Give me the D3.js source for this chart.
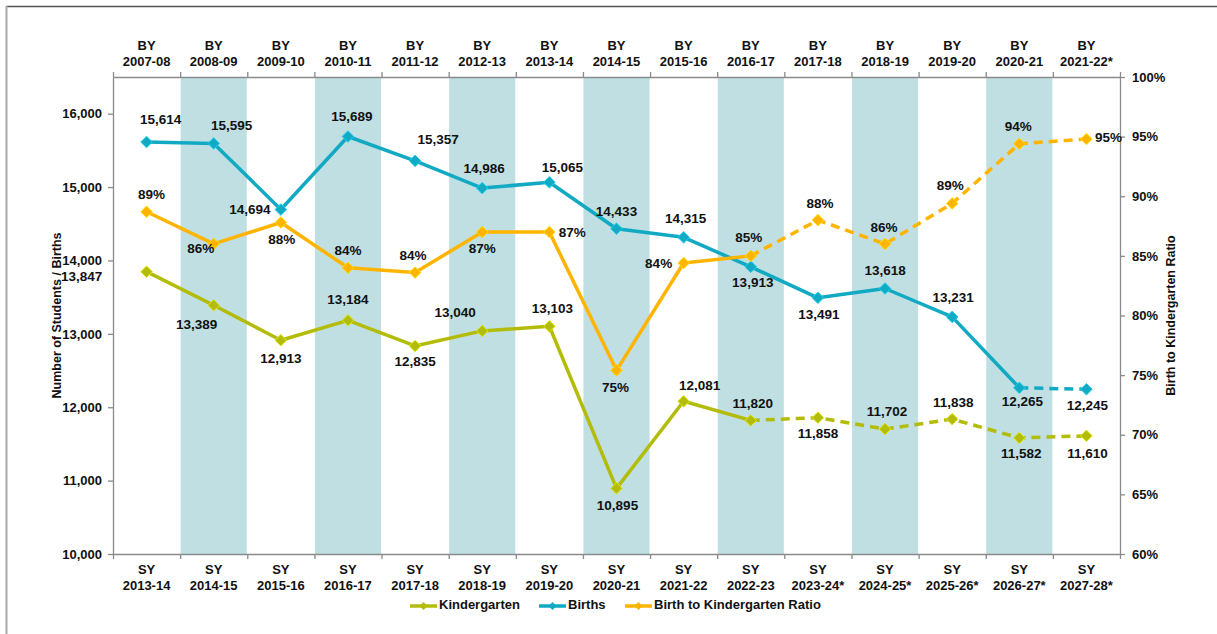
<!DOCTYPE html>
<html>
<head>
<meta charset="utf-8">
<script src="https://cdn.jsdelivr.net/npm/d3@7"></script>
<style>
  body { margin: 0; background: #fff; }
  svg text { font-family: "Liberation Sans", Arial, sans-serif; font-weight: bold; fill: #111; }
</style>
</head>
<body>
<div id="chart"></div>
<script>
// birth years (top axis) and school years (bottom axis)
const birthYears = ["2007-08", "2008-09", "2009-10", "2010-11", "2011-12", "2012-13", "2013-14", "2014-15",
  "2015-16", "2016-17", "2017-18", "2018-19", "2019-20", "2020-21", "2021-22*"];
const schoolYears = ["2013-14", "2014-15", "2015-16", "2016-17", "2017-18", "2018-19", "2019-20", "2020-21",
  "2021-22", "2022-23", "2023-24*", "2024-25*", "2025-26*", "2026-27*", "2027-28*"];

const kindergarten = [13847, 13389, 12913, 13184, 12835, 13040, 13103, 10895, 12081, 11820, 11858, 11702, 11838, 11582, 11610];
const births = [15614, 15595, 14694, 15689, 15357, 14986, 15065, 14433, 14315, 13913, 13491, 13618, 13231, 12265, 12245];
const ratio = [0.887, 0.860, 0.878, 0.840, 0.836, 0.870, 0.870, 0.754, 0.844, 0.850, 0.880, 0.860, 0.894, 0.944, 0.948];

// index where the dashed (projected) part of each line starts
const kinderDashFrom = 9, birthsDashFrom = 13, ratioDashFrom = 9;

const leftTicks = [10000, 11000, 12000, 13000, 14000, 15000, 16000];
const rightTicks = [0.60, 0.65, 0.70, 0.75, 0.80, 0.85, 0.90, 0.95, 1.00];

// label nudges [dx, dy] from the point
const birthsLbl = [[14,-22],[18,-17],[-31,1],[4,-19],[23,-20],[2,-19],[13,-14],[0,-16],[2,-18],[2,17],[1,18],[0,-17],[1,-18],[3,15],[1,17]];
const kinderLbl = [[-65,6],[-17,20],[0,19],[0,-20],[0,16],[-27,-17],[3,-17],[1,18],[16,-15],[2,-16],[0,17],[2,-17],[1,-16],[2,17],[1,19]];
const ratioLbl = [[5,-16],[-13,5],[1,18],[0,-16],[-2,-16],[0,17],[23,1],[-1,18],[-25,1],[-2,-17],[2,-16],[-1,-16],[-2,-17],[-1,-16],[22,-1]];

const W = 1217, H = 634;
const mLeft = 113, mRight = 1120, mTop = 77, mBottom = 554;

const colK = "#b3bc08", colB = "#12a9c3", colR = "#ffb400", band = "#bfdfe2";

const svg = d3.select("#chart").append("svg")
  .attr("width", W).attr("height", H);

// frame
svg.append("line").attr("x1", 6).attr("x2", W).attr("y1", 6.5).attr("y2", 6.5)
  .attr("stroke", "#555").attr("stroke-width", 1.5);
svg.append("line").attr("x1", 6.5).attr("x2", 6.5).attr("y1", 6).attr("y2", H)
  .attr("stroke", "#aaa").attr("stroke-width", 2);

const n = birthYears.length;
const x = d3.scaleBand().domain(d3.range(n)).range([mLeft, mRight]).padding(0);
const xb = d3.scaleLinear().domain([0, n]).range([mLeft, mRight]);
const y = d3.scaleLinear().domain([10000, 16500]).range([mBottom, mTop]);
const y2 = d3.scaleLinear().domain([0.6, 1.0]).range([mBottom, mTop]);
const cx = i => x(i) + x.bandwidth() / 2;

// shaded bands
svg.append("g").selectAll("rect")
  .data(d3.range(n).filter(i => i % 2 === 1))
  .join("rect")
  .attr("x", i => x(i) + 0.5)
  .attr("y", mTop)
  .attr("width", x.bandwidth() - 1)
  .attr("height", mBottom - mTop)
  .attr("fill", band);

// axes
function styleAxis(g) {
  g.select(".domain").attr("stroke", "#8a8a8a").attr("stroke-width", 1.3);
  g.selectAll(".tick line").attr("stroke", "#8a8a8a").attr("stroke-width", 1.3);
  g.selectAll("text").style("font-size", "13px").attr("fill", "#111")
    .style("font-family", "'Liberation Sans', Arial, sans-serif").style("font-weight", "bold");
}

svg.append("g").attr("transform", `translate(${mLeft},0)`)
  .call(d3.axisLeft(y).tickValues(leftTicks).tickFormat(d3.format(",")).tickSize(5).tickSizeOuter(0).tickPadding(6))
  .call(styleAxis);

svg.append("g").attr("transform", `translate(${mRight},0)`)
  .call(d3.axisRight(y2).tickValues(rightTicks).tickFormat(d3.format(".0%")).tickSize(5).tickSizeOuter(0).tickPadding(7))
  .call(styleAxis);

svg.append("g").attr("transform", `translate(0,${mBottom})`)
  .call(d3.axisBottom(xb).tickValues(d3.range(n + 1)).tickFormat("").tickSize(5).tickSizeOuter(0))
  .call(styleAxis);

svg.append("g").attr("transform", `translate(0,${mTop})`)
  .call(d3.axisTop(xb).tickValues(d3.range(n + 1)).tickFormat("").tickSize(5).tickSizeOuter(0))
  .call(styleAxis);

// category labels, two lines each
function catLabels(arr, prefix, y0) {
  const t = svg.append("g").selectAll("text").data(arr).join("text")
    .attr("x", (d, i) => cx(i))
    .attr("y", y0)
    .attr("text-anchor", "middle")
    .style("font-size", "13px");
  t.append("tspan").attr("x", (d, i) => cx(i)).text(prefix);
  t.append("tspan").attr("x", (d, i) => cx(i)).attr("dy", 15.5).text(d => d);
}
catLabels(birthYears, "BY", 50);
catLabels(schoolYears, "SY", 574);

// axis titles
svg.append("text")
  .attr("transform", `translate(61,${(mTop + mBottom) / 2}) rotate(-90)`)
  .attr("text-anchor", "middle")
  .style("font-size", "12.5px")
  .text("Number of Students / Births");
svg.append("text")
  .attr("transform", `translate(1175,${(mTop + mBottom) / 2}) rotate(-90)`)
  .attr("text-anchor", "middle")
  .style("font-size", "12.5px")
  .text("Birth to Kindergarten Ratio");

// series
function drawSeries(values, ys, color, dashFrom, lbl, fmt) {
  const pts = values.map((v, i) => [cx(i), ys(v)]);
  const line = d3.line();
  svg.append("path")
    .attr("d", line(pts.slice(0, dashFrom + 1)))
    .attr("fill", "none").attr("stroke", color).attr("stroke-width", 3.5)
    .attr("stroke-linejoin", "round");
  svg.append("path")
    .attr("d", line(pts.slice(dashFrom)))
    .attr("fill", "none").attr("stroke", color).attr("stroke-width", 3.5)
    .attr("stroke-dasharray", "9,6");
  svg.append("g").selectAll("path").data(values).join("path")
    .attr("d", d3.symbol(d3.symbolDiamond2, 85))
    .attr("transform", (d, i) => `translate(${cx(i)},${ys(d)})`)
    .attr("fill", color)
    .attr("stroke", d3.color(color).brighter(0.6))
    .attr("stroke-width", 1);
  svg.append("g").selectAll("text").data(values).join("text")
    .attr("x", (d, i) => cx(i) + lbl[i][0])
    .attr("y", (d, i) => ys(d) + lbl[i][1])
    .attr("text-anchor", "middle")
    .attr("dominant-baseline", "middle")
    .style("font-size", "13.5px")
    .text(fmt);
}

drawSeries(kindergarten, y, colK, kinderDashFrom, kinderLbl, d3.format(","));
drawSeries(births, y, colB, birthsDashFrom, birthsLbl, d3.format(","));
drawSeries(ratio, y2, colR, ratioDashFrom, ratioLbl, d3.format(".0%"));

// legend
const legend = [
  {name: "Kindergarten", color: colK, x: 410},
  {name: "Births", color: colB, x: 539},
  {name: "Birth to Kindergarten Ratio", color: colR, x: 625}
];
const lg = svg.append("g").selectAll("g").data(legend).join("g")
  .attr("transform", d => `translate(${d.x},606)`);
lg.append("line").attr("x1", 0).attr("x2", 27).attr("stroke", d => d.color).attr("stroke-width", 3.5);
lg.append("path").attr("d", d3.symbol(d3.symbolDiamond2, 40)).attr("transform", "translate(13.5,0)")
  .attr("fill", d => d.color);
lg.append("text").attr("x", 29).attr("dominant-baseline", "middle")
  .style("font-size", "13px").text(d => d.name);
</script>
</body>
</html>
